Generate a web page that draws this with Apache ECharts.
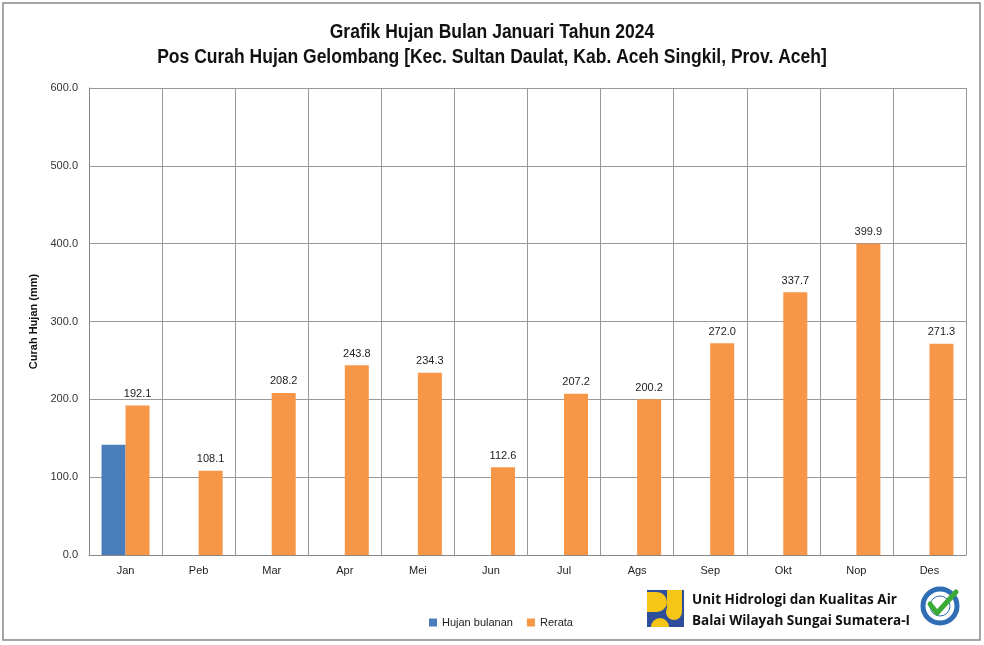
<!DOCTYPE html>
<html><head><meta charset="utf-8">
<script src="https://cdn.jsdelivr.net/npm/echarts@6/dist/echarts.min.js"></script>
<style>html,body{margin:0;padding:0;background:#fff}#c{width:984px;height:645px}</style>
</head><body><div id="c"></div>
<script>
const categories = ['Jan','Peb','Mar','Apr','Mei','Jun','Jul','Ags','Sep','Okt','Nop','Des'];
const hujanBulanan = [141.5, null, null, null, null, null, null, null, null, null, null, null];
const rerata = [192.1, 108.1, 208.2, 243.8, 234.3, 112.6, 207.2, 200.2, 272.0, 337.7, 399.9, 271.3];
const yTicks = {min: 0, max: 600, interval: 100};
const titleLines = ['Grafik Hujan Bulan Januari Tahun 2024', 'Pos Curah Hujan Gelombang [Kec. Sultan Daulat, Kab. Aceh Singkil, Prov. Aceh]'];

const chart = echarts.init(document.getElementById('c'));
const sans = '"Liberation Sans", Arial, sans-serif';
chart.setOption({
  animation: false,
  backgroundColor: '#fff',
  legend: {
    left: 424, top: 612, itemWidth: 8, itemHeight: 8, itemGap: 14,
    textStyle: {fontFamily: sans, fontSize: 11, color: '#222'},
    data: [{name: 'Hujan bulanan', icon: 'rect'}, {name: 'Rerata', icon: 'rect'}]
  },
  grid: {left: 89, right: 18, top: 88, bottom: 90},
  xAxis: {
    type: 'category', data: categories,
    axisLine: {lineStyle: {color: '#888'}},
    axisTick: {show: false},
    axisLabel: {fontFamily: sans, fontSize: 11, color: '#222', margin: 10},
    splitLine: {show: true, interval: 0, lineStyle: {color: '#999'}}
  },
  yAxis: {
    type: 'value', min: yTicks.min, max: yTicks.max, interval: yTicks.interval,
    name: 'Curah Hujan (mm)', nameLocation: 'middle', nameGap: 46,
    nameTextStyle: {fontFamily: sans, fontWeight: 'bold', fontSize: 11, color: '#111'},
    axisLine: {show: true, lineStyle: {color: '#888'}},
    axisTick: {show: false},
    axisLabel: {fontFamily: sans, fontSize: 11, color: '#333', margin: 11, formatter: v => v.toFixed(1)},
    splitLine: {lineStyle: {color: '#999'}}
  },
  series: [
    {name: 'Hujan bulanan', type: 'bar', data: hujanBulanan, barWidth: 24, barGap: '0%',
     itemStyle: {color: '#4a7ebb'}},
    {name: 'Rerata', type: 'bar', data: rerata, barWidth: 24,
     itemStyle: {color: '#f79646'},
     label: {show: true, position: 'top', distance: 6, fontFamily: sans, fontSize: 11, color: '#222',
             formatter: p => p.value.toFixed(1)}}
  ],
  graphic: [
    {type: 'rect', shape: {x: 3, y: 3, width: 977, height: 637}, style: {fill: 'none', stroke: '#888', lineWidth: 1.5}, silent: true},
    {type: 'text', x: 492, y: 32, scaleX: 0.875, style: {text: titleLines[0], align: 'center', verticalAlign: 'middle', fontFamily: sans, fontWeight: 'bold', fontSize: 20, fill: '#111'}},
    {type: 'text', x: 492, y: 57, scaleX: 0.875, style: {text: titleLines[1], align: 'center', verticalAlign: 'middle', fontFamily: sans, fontWeight: 'bold', fontSize: 20, fill: '#111'}},
    // PU logo
    {type: 'group', left: 647, top: 590, children: [
      {type: 'rect', shape: {x: 0, y: 0, width: 37, height: 37}, style: {fill: '#2e4d9a'}},
      {type: 'rect', shape: {x: 0, y: 2, width: 10, height: 20}, style: {fill: '#f5c518'}},
      {type: 'circle', shape: {cx: 10, cy: 12, r: 10}, style: {fill: '#f5c518'}},
      {type: 'rect', shape: {x: 20, y: 0, width: 15, height: 22}, style: {fill: '#f5c518'}},
      {type: 'circle', shape: {cx: 27, cy: 22, r: 8}, style: {fill: '#f5c518'}},
      {type: 'circle', shape: {cx: 13, cy: 37, r: 9}, style: {fill: '#f5c518'}},
      {type: 'rect', shape: {x: 0, y: 37, width: 37, height: 10}, style: {fill: '#fff'}}
    ]},
    {type: 'text', left: 692, top: 593, style: {text: 'Unit Hidrologi dan Kualitas Air', fontFamily: '"Open Sans", sans-serif', fontWeight: 'bold', fontSize: 13.5, fill: '#111'}},
    {type: 'text', left: 692, top: 614, style: {text: 'Balai Wilayah Sungai Sumatera-I', fontFamily: '"Open Sans", sans-serif', fontWeight: 'bold', fontSize: 13.5, fill: '#111'}},
    // ISO badge
    {type: 'circle', shape: {cx: 940, cy: 606, r: 17}, style: {fill: '#fff', stroke: '#2f6db5', lineWidth: 5}},
    {type: 'circle', shape: {cx: 940, cy: 606, r: 10}, style: {fill: 'none', stroke: '#2f6db5', lineWidth: 1}},
    {type: 'polyline', shape: {points: [[930, 604], [937, 613], [956, 592]]}, style: {stroke: '#3aaa35', lineWidth: 5, fill: 'none', lineCap: 'round', lineJoin: 'round'}}
  ]
});
</script></body></html>
